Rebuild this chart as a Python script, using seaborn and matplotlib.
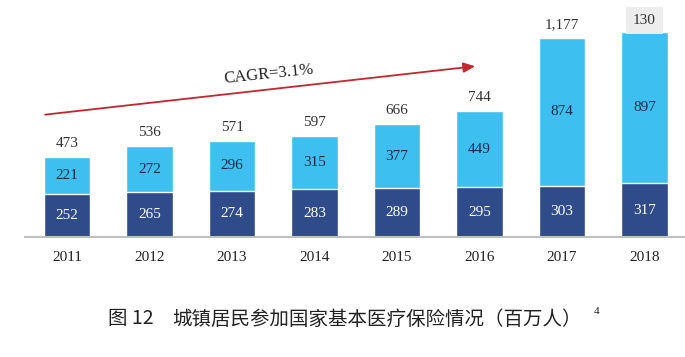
import numpy as np
import pandas as pd
import matplotlib
matplotlib.use("Agg")
import matplotlib.pyplot as plt
import seaborn as sns

years = ["2011", "2012", "2013", "2014", "2015", "2016", "2017", "2018"]
employee = [252, 265, 274, 283, 289, 295, 303, 317]
resident = [221, 272, 296, 315, 377, 449, 874, 897]
total_labels = ["473", "536", "571", "597", "666", "744", "1,177", "130"]

dark = "#2F4B8A"
light = "#3DC0EF"

sns.set_style("white")
plt.rcParams["font.family"] = ["Liberation Serif", "DejaVu Serif"]

df = pd.DataFrame({"year": years, "employee": employee, "resident": resident})
df["total"] = df["employee"] + df["resident"]

fig = plt.figure(figsize=(6.85, 3.57), dpi=100)
ax = fig.add_axes([25 / 685, 120 / 357, 660 / 685, 237 / 357])

# stacked bars: draw the total in light blue, then the bottom part on top
sns.barplot(data=df, x="year", y="total", color=light, width=0.56,
            saturation=1, ax=ax)
sns.barplot(data=df, x="year", y="employee", color=dark, width=0.56,
            saturation=1, ax=ax)

for i, row in df.iterrows():
    ax.text(i, row["employee"] / 2, str(row["employee"]), ha="center",
            va="center", color="white", fontsize=11)
    ax.text(i, row["employee"] + row["resident"] / 2, str(row["resident"]),
            ha="center", va="center", color="#1E2A48", fontsize=11)
    if i == len(df) - 1:
        ax.text(i, row["total"] + 65, total_labels[i], ha="center",
                va="center", color="#333333", fontsize=11,
                bbox=dict(boxstyle="square,pad=0.45", fc="#EDEDED", ec="none"))
    else:
        ax.text(i, row["total"] + 80, total_labels[i], ha="center",
                va="center", color="#333333", fontsize=11)

# CAGR arrow
ax.annotate("", xy=(4.98, 1012), xytext=(-0.30, 722),
            arrowprops=dict(arrowstyle="-|>,head_length=0.7,head_width=0.3",
                            color="#C3272F", lw=1.3))
ax.text(2.45, 965, "CAGR=3.1%", ha="center", va="center", rotation=6,
        fontsize=12, color="#222222")

ax.set_xlim(-0.51, 7.49)
ax.set_ylim(0, 1402)
ax.set_xlabel("")
ax.set_ylabel("")
ax.set_yticks([])
ax.tick_params(axis="x", length=0, labelsize=11, pad=10, colors="#222222")
for s in ["top", "right", "left"]:
    ax.spines[s].set_visible(False)
ax.spines["bottom"].set_color("#BFBFBF")
ax.spines["bottom"].set_linewidth(1.5)

cjk = ["Noto Sans CJK SC", "DejaVu Sans"]
fig.text(108 / 685, 1 - 319 / 357, "图 12", fontsize=14, va="center",
         family=cjk, color="#222222")
fig.text(172 / 685, 1 - 319 / 357,
         "城镇居民参加国家基本医疗保险情况（百万人）", fontsize=14,
         va="center", family=cjk, color="#222222")
fig.text(594 / 685, 1 - 312 / 357, "4", fontsize=8, va="center",
         color="#222222")

fig.savefig("out.png", dpi=100)
